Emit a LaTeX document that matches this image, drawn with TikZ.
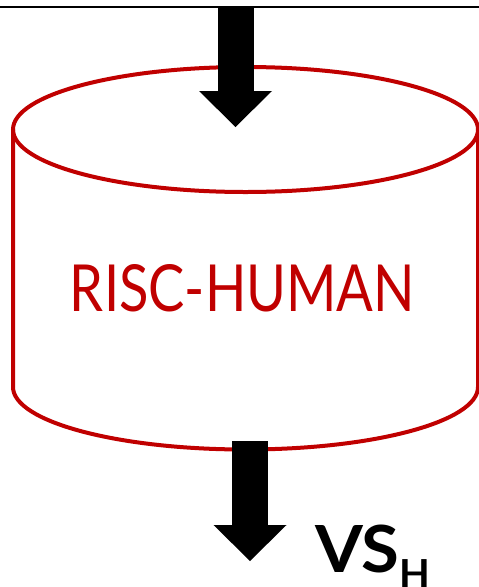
\documentclass[tikz,border=0pt]{standalone}
\usepackage{fontspec}
\setmainfont{Lato}
\usepackage{xcolor}
\usetikzlibrary{arrows.meta}
\definecolor{riscred}{RGB}{192,0,0}

\begin{document}
\begin{tikzpicture}[x=1pt,y=-1pt]
      \useasboundingbox (0,0) rectangle (479,587);
      \draw[line width=1.5pt] (0,7) -- (479,7);

      % cylinder
      \draw[riscred, line width=4pt] (245.5,129.5) ellipse [x radius=232.5, y radius=62.5];
      \draw[riscred, line width=4pt] (13,129.5) -- (13,387)
            arc[start angle=180, end angle=0, x radius=232.5, y radius=62.5] -- (478,129.5);
      \node[riscred, inner sep=0pt] (risc) at (242.5,288.5) {\resizebox{345pt}{47pt}{RISC-HUMAN}};

      \coordinate (in) at (235.5,7);
      \coordinate (inTip) at (235.5,127);
      \coordinate (out) at (250,441);
      \coordinate (outTip) at (250,561);
      \draw[line width=36pt, -{Triangle[width=73pt, length=36pt, line width=0pt]}] (in) -- (inTip);
      \draw[line width=36pt, -{Triangle[width=73pt, length=36pt, line width=0pt]}] (out) -- (outTip);

      \node[anchor=base west, inner sep=0pt] (vsh) at (315,572)
            {\fontsize{65}{70}\selectfont\bfseries\scalebox{1.06}[1]{VS}\raisebox{-16pt}{\fontsize{40}{40}\selectfont H}};
\end{tikzpicture}
\end{document}
